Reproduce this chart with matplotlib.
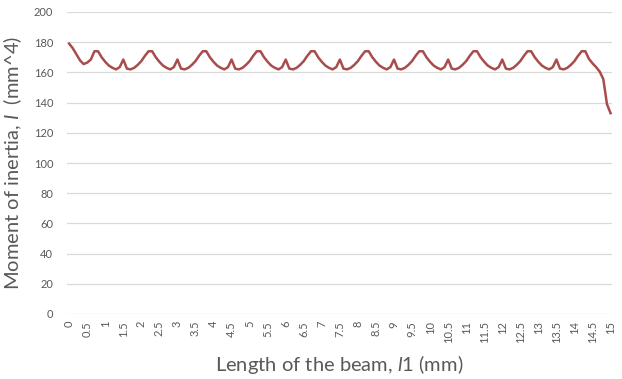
import matplotlib
matplotlib.use("Agg")
import matplotlib.pyplot as plt
import numpy as np

# Length along the beam (mm), sampled every 0.1 mm
length_mm = [round(i * 0.1, 1) for i in range(151)]

# Moment of inertia (mm^4)
inertia = [
    179, 176, 172, 168, 165.5, 166.5, 168.5,
    # 0.7 - 2.1
    174, 174, 170, 167, 164.5, 163, 162, 163.5, 168.5, 162.5, 162, 163, 165, 167.5, 171,
    # 2.2 - 3.6
    174, 174, 170, 167, 164.5, 163, 162, 163.5, 168.5, 162.5, 162, 163, 165, 167.5, 171,
    # 3.7 - 5.1
    174, 174, 170, 167, 164.5, 163, 162, 163.5, 168.5, 162.5, 162, 163, 165, 167.5, 171,
    # 5.2 - 6.6
    174, 174, 170, 167, 164.5, 163, 162, 163.5, 168.5, 162.5, 162, 163, 165, 167.5, 171,
    # 6.7 - 8.1
    174, 174, 170, 167, 164.5, 163, 162, 163.5, 168.5, 162.5, 162, 163, 165, 167.5, 171,
    # 8.2 - 9.6
    174, 174, 170, 167, 164.5, 163, 162, 163.5, 168.5, 162.5, 162, 163, 165, 167.5, 171,
    # 9.7 - 11.1
    174, 174, 170, 167, 164.5, 163, 162, 163.5, 168.5, 162.5, 162, 163, 165, 167.5, 171,
    # 11.2 - 12.6
    174, 174, 170, 167, 164.5, 163, 162, 163.5, 168.5, 162.5, 162, 163, 165, 167.5, 171,
    # 12.7 - 14.1
    174, 174, 170, 167, 164.5, 163, 162, 163.5, 168.5, 162.5, 162, 163, 165, 167.5, 171,
    # 14.2 - 15.0
    174, 174, 169, 166, 163.5, 160.5, 155.5, 139, 133,
]

x_ticks = [i * 0.5 for i in range(31)]
x_tick_labels = ["0", "0.5", "1", "1.5", "2", "2.5", "3", "3.5", "4", "4.5", "5",
                 "5.5", "6", "6.5", "7", "7.5", "8", "8.5", "9", "9.5", "10",
                 "10.5", "11", "11.5", "12", "12.5", "13", "13.5", "14", "14.5", "15"]
y_ticks = [0, 20, 40, 60, 80, 100, 120, 140, 160, 180, 200]

plt.rcParams['font.family'] = ['Lato', 'DejaVu Sans']
plt.rcParams['mathtext.fontset'] = 'custom'
plt.rcParams['mathtext.it'] = 'Lato:italic'
plt.rcParams['mathtext.rm'] = 'Lato'

text_color = "#595959"
grid_color = "#D9D9D9"

fig = plt.figure(figsize=(6.22, 3.79), dpi=100)
ax = fig.add_axes([67 / 622, 1 - 314 / 379, (612 - 67) / 622, (314 - 12) / 379])

ax.plot(length_mm, inertia, color="#A84C4C", linewidth=1.8, solid_joinstyle="round")

ax.set_xlim(-0.06, 15.04)
ax.set_ylim(0, 200)
ax.set_yticks(y_ticks)
ax.set_xticks(x_ticks)
ax.set_xticklabels(x_tick_labels, rotation=90, va="top", ha="center")
ax.tick_params(axis="both", length=0, colors=text_color, labelsize=8)
ax.tick_params(axis="y", pad=10)
ax.tick_params(axis="x", pad=5)

ax.grid(axis="y", color=grid_color, linewidth=0.9)
ax.set_axisbelow(True)
for s in ax.spines.values():
    s.set_visible(False)

ax.set_xlabel(r"Length of the beam, $\mathit{l}$1 (mm)", fontsize=14.5, color=text_color, labelpad=7)
ax.set_ylabel(r"Moment of inertia, $\mathit{I}$  (mm^4)", fontsize=14.5, color=text_color, labelpad=7)

fig.savefig("out.png", dpi=100, facecolor="white")
